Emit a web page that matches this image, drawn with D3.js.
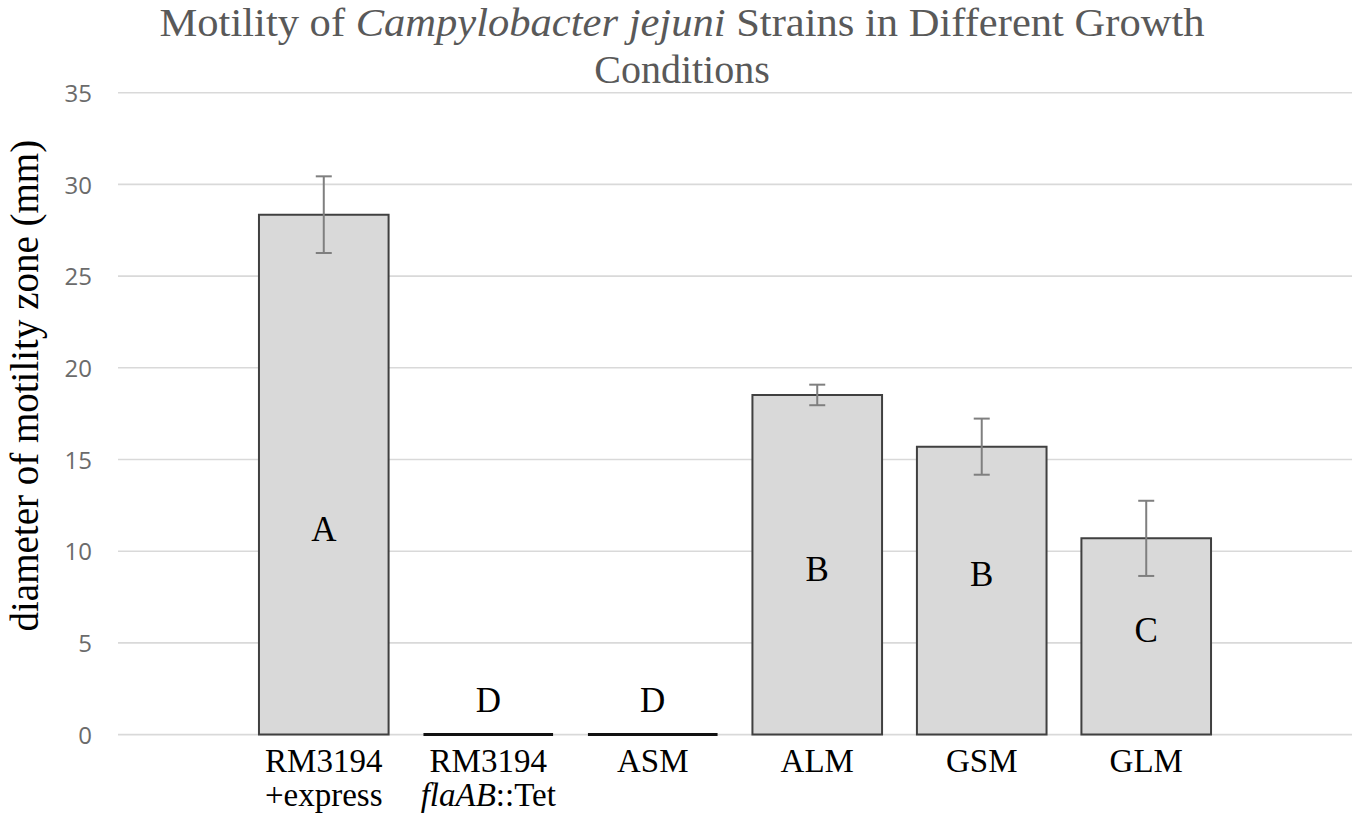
<!DOCTYPE html>
<html>
<head>
<meta charset="utf-8">
<script src="https://cdn.jsdelivr.net/npm/d3@7"></script>
<style>
  html, body { margin: 0; padding: 0; background: #fff; }
  svg { display: block; }
</style>
</head>
<body>
<svg id="chart" width="1355" height="822"></svg>
<script>
// ---- data ----
const categories = ["RM3194 +express", "RM3194 flaAB::Tet", "ASM", "ALM", "GSM", "GLM"];
const means      = [28.35, 0, 0, 18.52, 15.7, 10.7];
const errors     = [2.09, null, null, 0.56, 1.53, 2.05];
const letters    = ["A", "D", "D", "B", "B", "C"];
const letterAt   = [10.55, 1.23, 1.23, 8.37, 8.1, 5.05]; // data-unit baseline of group letters
const yTicks     = [0, 5, 10, 15, 20, 25, 30, 35];

(function () {
const svg = d3.select("#chart");
const pL = 118, pR = 1352, pT = 92.7, pB = 734.6;
const serif = "'Liberation Serif', 'Times New Roman', serif";

const x = d3.scaleBand().domain(categories).range([pL, pR])
  .paddingInner(0.212).paddingOuter(0.857);
const y = d3.scaleLinear().domain([0, 35]).range([pB, pT]);

// gridlines
svg.append("g").selectAll("line").data(yTicks).join("line")
  .attr("x1", pL).attr("x2", pR)
  .attr("y1", d => y(d)).attr("y2", d => y(d))
  .attr("stroke", "#d9d9d9").attr("stroke-width", 1.6);

// y axis labels
const yAxis = d3.axisLeft(y).tickValues(yTicks).tickSize(0).tickPadding(0);
const gy = svg.append("g").attr("transform", `translate(${pL - 26},0)`).call(yAxis);
gy.select(".domain").remove();
gy.selectAll("text")
  .attr("fill", "#6b6b6b")
  .style("font-family", "'Open Sans', sans-serif")
  .style("font-size", "24px")
  .attr("dy", "0.36em");

// bars
svg.append("g").selectAll("path").data(categories).join("path")
  .attr("d", (c, i) => {
    const x0 = x(c), x1 = x(c) + x.bandwidth();
    const y0 = y(0), y1 = y(means[i]);
    return `M${x0},${y0}V${y1}H${x1}V${y0}Z`;
  })
  .attr("fill", "#d9d9d9")
  .attr("stroke", (c, i) => means[i] === 0 ? "#111" : "#404040")
  .attr("stroke-width", (c, i) => means[i] === 0 ? 3 : 2)
  .attr("stroke-linejoin", "miter");

// error bars
const eb = svg.append("g").attr("stroke", "#7f7f7f").attr("stroke-width", 2);
categories.forEach((c, i) => {
  if (errors[i] == null) return;
  const cx = x(c) + x.bandwidth() / 2;
  const hi = y(means[i] + errors[i]), lo = y(means[i] - errors[i]);
  eb.append("line").attr("x1", cx).attr("x2", cx).attr("y1", hi).attr("y2", lo);
  eb.append("line").attr("x1", cx - 8).attr("x2", cx + 8).attr("y1", hi).attr("y2", hi);
  eb.append("line").attr("x1", cx - 8).attr("x2", cx + 8).attr("y1", lo).attr("y2", lo);
});

// group letters
svg.append("g").selectAll("text").data(categories).join("text")
  .attr("x", c => x(c) + x.bandwidth() / 2)
  .attr("y", (c, i) => y(letterAt[i]))
  .attr("text-anchor", "middle")
  .attr("font-family", serif)
  .attr("font-size", 35)
  .attr("fill", "#000")
  .text((c, i) => letters[i]);

// x labels
const xl = svg.append("g")
  .attr("font-family", serif)
  .attr("font-size", 33)
  .attr("fill", "#000")
  .attr("text-anchor", "middle");
categories.forEach((c, i) => {
  const cx = x(c) + x.bandwidth() / 2;
  const t = xl.append("text").attr("x", cx).attr("y", 772);
  if (c === "RM3194 +express") {
    t.append("tspan").attr("x", cx).text("RM3194");
    t.append("tspan").attr("x", cx).attr("dy", 34).text("+express");
  } else if (c === "RM3194 flaAB::Tet") {
    t.append("tspan").attr("x", cx).text("RM3194");
    const t2 = t.append("tspan").attr("x", cx).attr("dy", 34);
    t2.append("tspan").attr("font-style", "italic").text("flaAB");
    t2.append("tspan").text("::Tet");
  } else {
    t.text(c);
  }
});

// y axis title
svg.append("text")
  .attr("transform", `translate(38,${(pT + pB) / 2 - 28}) rotate(-90)`)
  .attr("text-anchor", "middle")
  .attr("font-family", serif)
  .attr("font-size", 39)
  .attr("fill", "#000")
  .text("diameter of motility zone (mm)");

// title (two lines)
const t1 = svg.append("text")
  .attr("x", 682).attr("y", 36)
  .attr("text-anchor", "middle")
  .attr("font-family", serif)
  .attr("font-size", 40)
  .attr("fill", "#595959")
  .attr("textLength", 1045)
  .attr("lengthAdjust", "spacingAndGlyphs");
t1.append("tspan").text("Motility of ");
t1.append("tspan").attr("font-style", "italic").text("Campylobacter jejuni");
t1.append("tspan").text(" Strains in Different Growth");
svg.append("text")
  .attr("x", 682).attr("y", 83)
  .attr("text-anchor", "middle")
  .attr("font-family", serif)
  .attr("font-size", 40)
  .attr("fill", "#595959")
  .text("Conditions");
})();
</script>
</body>
</html>
